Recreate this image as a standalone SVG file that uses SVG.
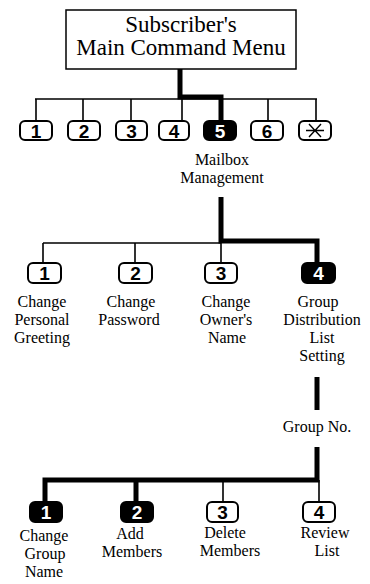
<svg xmlns="http://www.w3.org/2000/svg" width="370" height="584" viewBox="0 0 370 584">
<style>
.bg{fill:#fff}
.title{fill:#fff;stroke:#000;stroke-width:1.5}
.t{font-family:"Liberation Serif","Times New Roman",serif;fill:#000;text-anchor:middle}
.tt{font-size:23px}
.lb{font-size:16px}
.key{fill:#fff;stroke:#000;stroke-width:2}
.keyb{fill:#000;stroke:#000;stroke-width:2}
.d{font-family:"Liberation Sans",Arial,sans-serif;font-weight:bold;font-size:19px;text-anchor:middle;fill:#000}
.dw{fill:#fff}
.thin{fill:none;stroke:#000;stroke-width:1.6}
.thick{fill:none;stroke:#000;stroke-width:5;stroke-linejoin:miter}
</style>
<rect class="bg" x="0" y="0" width="370" height="584"/>
<g id="connectors">
  <path class="thin" d="M35,99 H317 M36,99 V121 M83,99 V121 M131,99 V121 M182,99 V121 M268,99 V121 M316,99 V121"/>
  <path class="thick" d="M180,69 V97 H221 V121"/>
  <path class="thin" d="M43,243 H221 M43,243 V263 M135,243 V263 M221,243 V263"/>
  <path class="thick" d="M221,197 V241 H317 V263"/>
  <path class="thick" d="M317,377 V410"/>
  <path class="thick" d="M317,447 V480 H45 V502 M136,480 V502"/>
  <path class="thin" d="M223,480 V502 M319,480 V502"/>
</g>
<g id="main-menu">
  <rect class="title" x="66" y="10" width="230" height="59"/>
  <text class="t tt" x="181" y="32">Subscriber's</text>
  <text class="t tt" x="181" y="55">Main Command Menu</text>
</g>
<g id="k1"><rect class="key" x="20" y="121" width="32" height="19" rx="5"/><text class="d" x="36" y="138">1</text></g>
<g id="k2"><rect class="key" x="68" y="121" width="32" height="19" rx="5"/><text class="d" x="84" y="138">2</text></g>
<g id="k3"><rect class="key" x="116" y="121" width="31" height="19" rx="5"/><text class="d" x="131.5" y="138">3</text></g>
<g id="k4"><rect class="key" x="159" y="121" width="30" height="19" rx="5"/><text class="d" x="174" y="138">4</text></g>
<g id="k5"><rect class="keyb" x="204" y="121" width="32" height="19" rx="5"/><text class="d dw" x="220" y="138">5</text>
  <text class="t lb" x="222" y="165">Mailbox</text><text class="t lb" x="222" y="183">Management</text></g>
<g id="k6"><rect class="key" x="251" y="121" width="32" height="19" rx="5"/><text class="d" x="267" y="138">6</text></g>
<g id="kstar"><rect class="key" x="299" y="121" width="32" height="19" rx="5"/>
  <path class="thin" d="M309,124 L321,137 M321,124 L309,137 M306,130.5 H324" style="stroke-width:1.4"/></g>

<g id="m1"><rect class="key" x="28" y="263" width="33" height="20" rx="5"/><text class="d" x="44.5" y="280">1</text>
  <text class="t lb" x="42" y="307">Change</text><text class="t lb" x="42" y="325">Personal</text><text class="t lb" x="42" y="343">Greeting</text></g>
<g id="m2"><rect class="key" x="119" y="263" width="33" height="20" rx="5"/><text class="d" x="135.5" y="280">2</text>
  <text class="t lb" x="131" y="307">Change</text><text class="t lb" x="129" y="325">Password</text></g>
<g id="m3"><rect class="key" x="205" y="263" width="32" height="20" rx="5"/><text class="d" x="221" y="280">3</text>
  <text class="t lb" x="226" y="307">Change</text><text class="t lb" x="226" y="325">Owner's</text><text class="t lb" x="227" y="343">Name</text></g>
<g id="m4"><rect class="keyb" x="302" y="263" width="33" height="20" rx="5"/><text class="d dw" x="318.5" y="280">4</text>
  <text class="t lb" x="318" y="307">Group</text><text class="t lb" x="322" y="325">Distribution</text><text class="t lb" x="322" y="343">List</text><text class="t lb" x="322" y="361">Setting</text></g>
<g id="group-no"><text class="t lb" x="317" y="432">Group No.</text></g>

<g id="g1"><rect class="keyb" x="30" y="502" width="32" height="20" rx="5"/><text class="d dw" x="46" y="519">1</text>
  <text class="t lb" x="44" y="541">Change</text><text class="t lb" x="45" y="559">Group</text><text class="t lb" x="44" y="577">Name</text></g>
<g id="g2"><rect class="keyb" x="121" y="502" width="32" height="20" rx="5"/><text class="d dw" x="137" y="519">2</text>
  <text class="t lb" x="130" y="539">Add</text><text class="t lb" x="132" y="557">Members</text></g>
<g id="g3"><rect class="key" x="207" y="502" width="31" height="20" rx="5"/><text class="d" x="222.5" y="519">3</text>
  <text class="t lb" x="225" y="538">Delete</text><text class="t lb" x="230" y="556">Members</text></g>
<g id="g4"><rect class="key" x="303" y="502" width="32" height="20" rx="5"/><text class="d" x="319" y="519">4</text>
  <text class="t lb" x="325" y="538">Review</text><text class="t lb" x="327" y="556">List</text></g>
</svg>
